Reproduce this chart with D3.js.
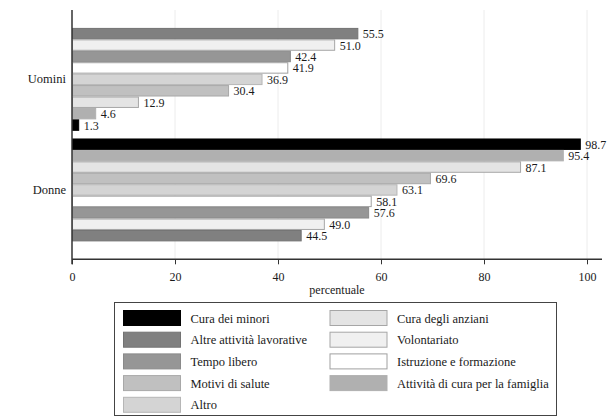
<!DOCTYPE html>
<html>
<head>
<meta charset="utf-8">
<script src="https://cdn.jsdelivr.net/npm/d3@7/dist/d3.min.js"></script>
<style>
html,body{margin:0;padding:0;background:#fff;}
svg{display:block;}
text{font-family:"Liberation Serif","Times New Roman",serif;fill:#1a1a1a;}
</style>
</head>
<body>
<svg id="chart" width="610" height="418"></svg>
<script>
const categories = ["Cura dei minori","Altre attività lavorative","Tempo libero","Motivi di salute","Altro",
  "Cura degli anziani","Volontariato","Istruzione e formazione","Attività di cura per la famiglia"];
const groups = ["Uomini","Donne"];
const uomini = [1.3, 55.5, 42.4, 30.4, 36.9, 12.9, 51.0, 41.9, 4.6];
const donne  = [98.7, 44.5, 57.6, 69.6, 63.1, 87.1, 49.0, 58.1, 95.4];
const xTicks = [0, 20, 40, 60, 80, 100];
const fills   = ["#000000","#808080","#969696","#c0c0c0","#d4d4d4","#e4e4e4","#f0f0f0","#ffffff","#b0b0b0"];
const strokes = ["#000000","#727272","#8a8a8a","#a8a8a8","#b6b6b6","#a6a6a6","#a6a6a6","#a0a0a0","#b0b0b0"];

const svg = d3.select("#chart");
const L = 72, R = 602, T = 10, B = 259.3;
const x = d3.scaleLinear().domain([0, 100]).range([L, 587]);
const y0 = d3.scaleBand().domain(groups).range([T, B]).paddingInner(0.0693).paddingOuter(0.162);
const y1 = d3.scaleBand().domain(d3.range(9)).range([0, y0.bandwidth()]).padding(0);

// gridlines
svg.append("g").selectAll("line").data(xTicks.filter(d => d > 0)).join("line")
  .attr("x1", d => x(d)).attr("x2", d => x(d)).attr("y1", T).attr("y2", B)
  .attr("stroke", "#ececec").attr("stroke-width", 1);

const data = {Uomini: uomini, Donne: donne};
groups.forEach(g => {
  const rows = categories.map((c, i) => ({c, i, v: data[g][i]}))
    .sort((a, b) => b.v - a.v);
  const gg = svg.append("g").attr("transform", `translate(0,${y0(g)})`);
  gg.selectAll("rect").data(rows).join("rect")
    .attr("x", x(0) + 0.5)
    .attr("y", (d, k) => y1(k) + 0.5)
    .attr("width", d => x(d.v) - x(0) - 0.5)
    .attr("height", y1.bandwidth() - 1)
    .attr("fill", d => fills[d.i])
    .attr("stroke", d => strokes[d.i])
    .attr("stroke-width", 1);
  gg.selectAll("text").data(rows).join("text")
    .attr("x", d => x(d.v) + 5)
    .attr("y", (d, k) => y1(k) + y1.bandwidth() / 2 + 4.5)
    .attr("font-size", "12px")
    .text(d => d.v.toFixed(1));
});

// y axis
svg.append("line").attr("x1", L).attr("x2", L).attr("y1", T).attr("y2", B + 5)
  .attr("stroke", "#333").attr("stroke-width", 1.5);
svg.append("g").selectAll("text").data(groups).join("text")
  .attr("x", L - 6).attr("y", d => y0(d) + y0.bandwidth() / 2 + 4)
  .attr("text-anchor", "end").attr("font-size", "12.5px").text(d => d);

// x axis
const xa = svg.append("g").attr("transform", `translate(0,${B})`)
  .call(d3.axisBottom(x).tickValues(xTicks).tickSize(5).tickPadding(8).tickFormat(d3.format("d")));
xa.select(".domain").attr("d", `M${L},0H${R}`).attr("stroke", "#333").attr("stroke-width", 1.5);
xa.selectAll(".tick line").attr("stroke", "#333").attr("stroke-width", 1);
xa.selectAll(".tick text").attr("font-family", "Liberation Serif, Times New Roman, serif")
  .attr("font-size", "12px").attr("fill", "#1a1a1a");
svg.append("text").attr("x", (L + R) / 2).attr("y", 294).attr("text-anchor", "middle")
  .attr("font-size", "12px").text("percentuale");

// legend
const lg = svg.append("g");
lg.append("rect").attr("x", 114.5).attr("y", 302.5).attr("width", 442).attr("height", 113)
  .attr("fill", "#fff").attr("stroke", "#444").attr("stroke-width", 1);
const items = lg.selectAll("g.item").data(categories).join("g").attr("class", "item")
  .attr("transform", (d, i) => {
    const col = i < 5 ? 0 : 1, row = i < 5 ? i : i - 5;
    return `translate(${col ? 330 : 123.5},${310.5 + row * 21.7})`;
  });
items.append("rect").attr("width", 57).attr("height", 15)
  .attr("fill", (d, i) => fills[i]).attr("stroke", (d, i) => strokes[i]).attr("stroke-width", 1);
items.append("text").attr("x", 67).attr("y", 12).attr("font-size", "12.5px").text(d => d);
</script>
</body>
</html>
